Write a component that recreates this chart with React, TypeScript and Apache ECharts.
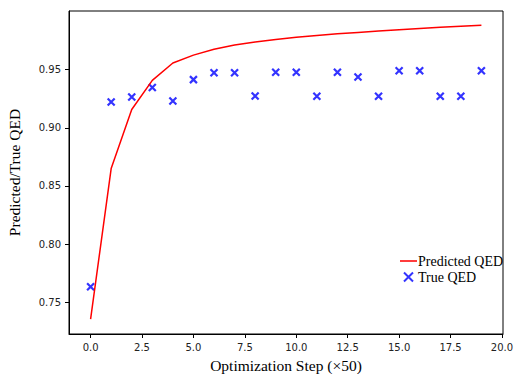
import React, { useEffect, useRef } from "react";
import * as echarts from "echarts";

const steps = [0, 1, 2, 3, 4, 5, 6, 7, 8, 9, 10, 11, 12, 13, 14, 15, 16, 17, 18, 19];
const predictedQED = [0.7355, 0.865, 0.9157, 0.9408, 0.9557, 0.9625, 0.9675, 0.9712, 0.9738, 0.976, 0.9778, 0.9794, 0.9808, 0.982, 0.9832, 0.9843, 0.9854, 0.9864, 0.9873, 0.9882];
const trueQED = [0.7634, 0.9222, 0.9265, 0.9346, 0.9231, 0.9414, 0.9474, 0.9474, 0.9273, 0.9477, 0.9477, 0.9271, 0.9477, 0.9437, 0.9271, 0.9491, 0.9491, 0.9271, 0.9271, 0.9491];
const xTicks = [0, 2.5, 5, 7.5, 10, 12.5, 15, 17.5, 20];
const yTicks = [0.75, 0.8, 0.85, 0.9, 0.95];

const serif = "'Liberation Serif', 'Times New Roman', serif";
const sans = "'DejaVu Sans', sans-serif";

export default function App() {
  const ref = useRef<HTMLDivElement>(null);
  useEffect(() => {
    if (!ref.current) return;
    const chart = echarts.init(ref.current, undefined, { renderer: "svg" });
    chart.setOption({
      animation: false,
      backgroundColor: "#fff",
      grid: { left: 69, top: 11, right: 12, bottom: 40, outerBoundsMode: "none", containLabel: false, show: true, borderColor: "#000", borderWidth: 1, backgroundColor: "transparent" },
      legend: {
        orient: "vertical",
        left: 395,
        top: 249,
        itemWidth: 17,
        itemHeight: 9,
        itemGap: 2,
        textStyle: { fontFamily: serif, fontSize: 14, color: "#000", padding: [0, 0, 0, -4] },
        data: [
          { name: "Predicted QED", icon: "path://M0,0L20,0L20,1.8L0,1.8Z" },
          { name: "True QED" },
        ],
      },
      xAxis: {
        type: "value",
        min: -1.05,
        max: 20.05,
        name: "Optimization Step (×50)",
        nameLocation: "middle",
        nameGap: 23,
        nameTextStyle: { fontFamily: serif, fontSize: 15.5, color: "#000" },
        axisLine: { show: true, onZero: false, lineStyle: { color: "#000", width: 1 } },
        axisTick: { show: true, length: 4, customValues: xTicks, lineStyle: { color: "#000" } },
        axisLabel: { customValues: xTicks, fontFamily: sans, fontSize: 10, color: "#222", margin: 8, formatter: (v: number) => v.toFixed(1) },
        splitLine: { show: false },
      },
      yAxis: {
        type: "value",
        min: 0.7228,
        max: 1.0004,
        name: "Predicted/True QED",
        nameLocation: "middle",
        nameGap: 47,
        nameTextStyle: { fontFamily: serif, fontSize: 15.5, color: "#000" },
        axisLine: { show: true, onZero: false, lineStyle: { color: "#000", width: 1 } },
        axisTick: { show: true, length: 4, customValues: yTicks, lineStyle: { color: "#000" } },
        axisLabel: { customValues: yTicks, fontFamily: sans, fontSize: 10, color: "#222", margin: 8, formatter: (v: number) => v.toFixed(2) },
        splitLine: { show: false },
      },
      series: [
        {
          name: "Predicted QED",
          type: "line",
          data: steps.map((s, i) => [s, predictedQED[i]]),
          symbol: "none",
          lineStyle: { color: "#ff0000", width: 1.5 },
          itemStyle: { color: "#ff0000" },
        },
        {
          name: "True QED",
          type: "scatter",
          data: steps.map((s, i) => [s, trueQED[i]]),
          symbol: "path://M0,0L10,10M10,0L0,10",
          symbolSize: 7,
          itemStyle: { color: "#0000ff", borderColor: "#0000ff", borderWidth: 2.2 },
        },
      ],
    });
    return () => chart.dispose();
  }, []);
  return <div ref={ref} style={{ position: "fixed", left: 0, top: 0, width: 515, height: 374 }} />;
}
